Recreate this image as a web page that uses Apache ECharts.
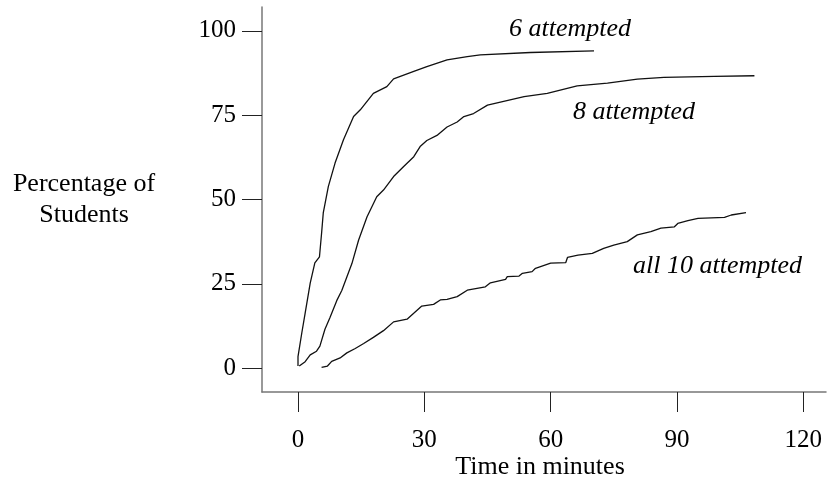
<!DOCTYPE html>
<html>
<head>
<meta charset="utf-8">
<script src="https://cdn.jsdelivr.net/npm/echarts@6/dist/echarts.min.js"></script>
<style>
html,body{margin:0;padding:0;background:#fff;}
#c{width:830px;height:483px;}
</style>
</head>
<body>
<div id="c"></div>
<script>
var xTicks = [0, 30, 60, 90, 120];
var yTicks = [0, 25, 50, 75, 100];

var time6 = [0,0,0.9,1.7,2.9,4.0,5.1,5.6,6.0,7.2,8.8,10.8,13.2,14.8,17.9,21.1,22.7,27.5,30.6,35.4,40.2,43.3,55.2,70.3];
var pct6  = [0.6,3.4,10.4,16.3,25.2,31.2,33,40,46,53.8,60.8,67.7,74.6,76.6,81.5,83.5,85.8,88,89.4,91.4,92.4,92.9,93.6,94.1];

var time8 = [0.3,1.7,2.9,4.4,5.2,6.4,7.6,9.2,10.4,11.6,12.8,14.4,16.4,18.7,20.3,22.7,25.1,27.5,29.0,30.6,33.0,35.4,37.8,39.4,41.7,45,53.7,59.2,66.3,73.5,80.6,86.9,98.9,108.4];
var pct8  = [0.6,1.9,3.9,5.0,6.5,11.5,15,20,23,27,31,38,44.9,50.8,52.8,56.8,59.8,62.7,65.7,67.5,69,71.5,73,74.6,75.5,78,80.5,81.5,83.7,84.5,85.7,86.2,86.5,86.7];

var time10 = [5.6,7.0,8.0,10.0,11.6,13.6,15.6,17.9,20.3,22.7,25.9,29.4,32.2,33.8,35.4,37.8,40.2,44.5,45.7,49.3,49.7,52.5,53.3,55.6,56.4,60,63.6,64,66.5,69.9,72.6,75,78.2,80.6,83.8,86.2,89.4,90.2,92.6,95,101.3,102.9,106.4];
var pct10  = [0.2,0.6,2,3,4.5,5.8,7.3,9.1,11.1,13.7,14.5,18.4,18.9,20.2,20.4,21.2,23.1,24.1,25.3,26.3,27.1,27.3,28.1,28.6,29.6,31.1,31.3,32.8,33.5,34,35.5,36.5,37.5,39.5,40.5,41.5,41.9,42.9,43.7,44.4,44.7,45.4,46.1];

var seriesNames = ['6 attempted', '8 attempted', 'all 10 attempted'];

function pairs(t, p){ return t.map(function(v,i){ return [v, p[i]]; }); }

var FONT = '"Liberation Serif", "DejaVu Serif", serif';
var chart = echarts.init(document.getElementById('c'), null, {renderer:'canvas'});

function lineSeries(name, data){
  return {
    name: name, type: 'line', data: data, showSymbol: false, symbol: 'none',
    lineStyle: {color: '#111', width: 1.3}, animation: false, silent: true
  };
}

chart.setOption({
  backgroundColor: '#fff',
  animation: false,
  grid: {left: 262, top: 7, width: 564, height: 385, containLabel: false},
  xAxis: {
    type: 'value', min: -8.55, max: 125.4,
    axisLine: {show: true, onZero: false, lineStyle: {color: '#777', width: 1.5}},
    axisTick: {show: true, length: 20, inside: false, customValues: xTicks, lineStyle: {color: '#222', width: 1}},
    axisLabel: {show: true, customValues: xTicks, margin: 36, color: '#000', fontFamily: FONT, fontSize: 25},
    splitLine: {show: false}
  },
  yAxis: {
    type: 'value', min: -7.1, max: 107.1,
    axisLine: {show: true, onZero: false, lineStyle: {color: '#777', width: 1.5}},
    axisTick: {show: true, length: 20, inside: false, customValues: yTicks, lineStyle: {color: '#222', width: 1}},
    axisLabel: {show: true, customValues: yTicks, margin: 26, color: '#000', fontFamily: FONT, fontSize: 25},
    splitLine: {show: false}
  },
  graphic: [
    {type:'text', x: 84, y: 184, style:{text:'Percentage of', font:'26px ' + FONT, fill:'#000', align:'center', verticalAlign:'middle'}},
    {type:'text', x: 84, y: 215, style:{text:'Students', font:'26px ' + FONT, fill:'#000', align:'center', verticalAlign:'middle'}},
    {type:'text', x: 540, y: 467, style:{text:'Time in minutes', font:'26px ' + FONT, fill:'#000', align:'center', verticalAlign:'middle'}},
    {type:'text', x: 509, y: 29, style:{text:seriesNames[0], font:'italic 26px ' + FONT, fill:'#000', align:'left', verticalAlign:'middle'}},
    {type:'text', x: 573, y: 112, style:{text:seriesNames[1], font:'italic 26px ' + FONT, fill:'#000', align:'left', verticalAlign:'middle'}},
    {type:'text', x: 633, y: 266, style:{text:seriesNames[2], font:'italic 26px ' + FONT, fill:'#000', align:'left', verticalAlign:'middle'}}
  ],
  series: [
    lineSeries(seriesNames[0], pairs(time6, pct6)),
    lineSeries(seriesNames[1], pairs(time8, pct8)),
    lineSeries(seriesNames[2], pairs(time10, pct10))
  ]
});
</script>
</body>
</html>
